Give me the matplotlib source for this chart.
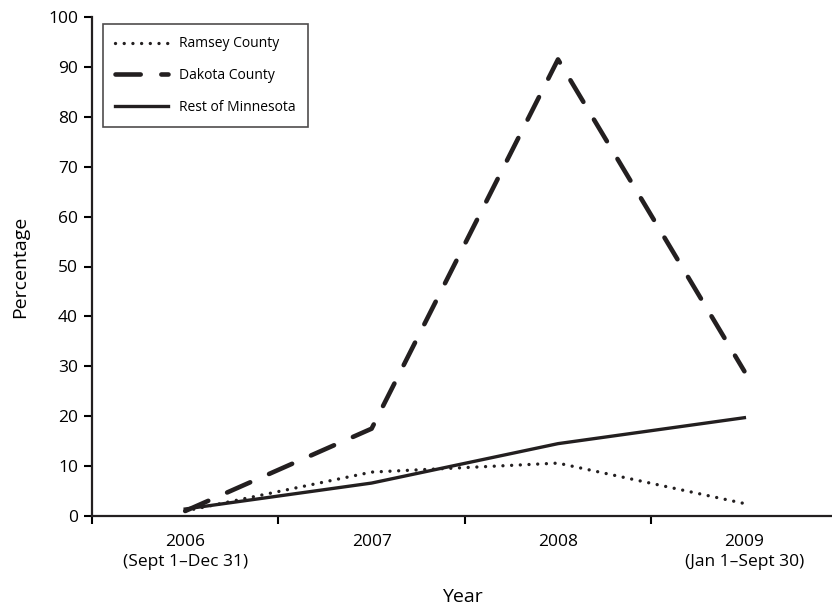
import matplotlib.pyplot as plt

plt.rcParams['font.family'] = ['Open Sans', 'DejaVu Sans']

# Data
years = ["2006\n(Sept 1\u2013Dec 31)", "2007", "2008", "2009\n(Jan 1\u2013Sept 30)"]
ramsey = [1.0, 8.8, 10.6, 2.5]
dakota = [1.0, 17.5, 91.5, 29.0]
rest_mn = [1.4, 6.6, 14.5, 19.7]

fig = plt.figure(figsize=(8.32, 6.06), dpi=100)
ax = fig.add_axes([92 / 832, 90 / 606, 740 / 832, 499 / 606])

x = list(range(len(years)))
ax.plot(x, ramsey, color="#231f20", lw=2.4, linestyle=(0, (0.01, 2.6)),
        dash_capstyle="round", label="Ramsey County")
ax.plot(x, dakota, color="#231f20", lw=3.3, linestyle=(0, (5.5, 4.5)),
        dash_capstyle="round", label="Dakota County")
ax.plot(x, rest_mn, color="#231f20", lw=2.4, label="Rest of Minnesota")

ax.set_xlim(-0.5, 3.47)
ax.set_ylim(0, 100)
ax.set_yticks(range(0, 101, 10))

# category labels centred, ticks at boundaries
ax.set_xticks([-0.5, 0.5, 1.5, 2.5])
ax.set_xticklabels([])
ax.set_xticks(x, minor=True)
ax.set_xticklabels(years, minor=True, fontsize=12.5, linespacing=1.35)
ax.tick_params(axis="x", which="minor", length=0, pad=13)
ax.tick_params(axis="x", which="major", length=6, width=1.5, direction="out")
ax.tick_params(axis="y", length=6, width=1.5, direction="out", labelsize=12.5, pad=4)

for s in ["top", "right"]:
    ax.spines[s].set_visible(False)
for s in ["left", "bottom"]:
    ax.spines[s].set_linewidth(1.6)
    ax.spines[s].set_color("#231f20")

ax.set_xlabel("Year", fontsize=14, labelpad=13)
ax.set_ylabel("Percentage", fontsize=14, labelpad=14)

leg = ax.legend(loc="upper left", bbox_to_anchor=(0.005, 1.0), fontsize=10,
                frameon=True, fancybox=False, edgecolor="#231f20",
                handlelength=3.8, labelspacing=1.2, borderpad=0.9)
leg.get_frame().set_linewidth(1.2)

plt.savefig("out.png", dpi=100)
